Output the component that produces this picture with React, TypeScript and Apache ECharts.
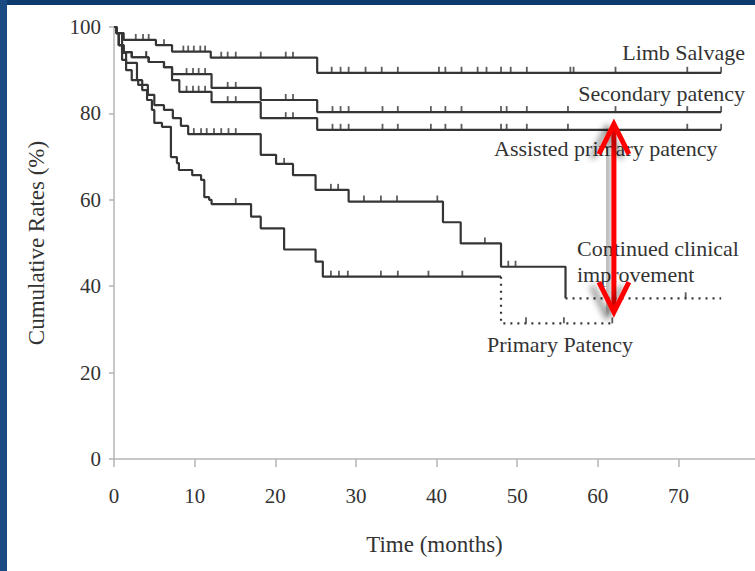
import React, { useEffect, useRef } from "react";
import * as echarts from "echarts";

// ---- data (months, cumulative %) ----
const xTicks = [0, 10, 20, 30, 40, 50, 60, 70];
const yTicks = [0, 20, 40, 60, 80, 100];

const limbTimes = [0, 0.3, 1.2, 5.2, 7.2, 12.0, 25.2, 75.3];
const limbValues = [100, 98.6, 97.0, 95.8, 94.3, 92.9, 89.4, 89.4];
const limbCensor = [2.7, 3.6, 4.3, 6.2, 8.6, 9.2, 9.9, 10.7, 11.3, 13.3, 14.1, 15.1, 18.2, 21.3, 22.2, 27.0, 28.1, 29.1, 31.2, 33.2, 35.2, 40.3, 41.1, 43.1, 45.1, 46.2, 48.0, 49.2, 51.2, 56.6, 57.0, 62.2, 71.1, 75.3];

const secTimes = [0, 0.3, 0.6, 1.2, 2.2, 4.3, 6.2, 7.2, 12.1, 18.2, 25.2, 75.3];
const secValues = [100, 98.6, 95.8, 94.2, 93.0, 91.9, 90.7, 89.1, 85.9, 83.1, 80.3, 80.3];
const secCensor = [4.0, 9.0, 9.8, 10.5, 11.3, 14.1, 15.1, 21.3, 22.2, 27.1, 28.1, 29.1, 33.3, 35.2, 39.3, 41.1, 43.1, 48.0, 48.7, 51.2, 56.3, 62.2, 71.1, 75.3];

const astTimes = [0, 0.3, 0.6, 1.2, 2.2, 4.3, 6.2, 7.2, 8.1, 12.1, 18.2, 25.2, 75.3];
const astValues = [100, 98.6, 95.8, 94.2, 93.0, 91.9, 90.7, 87.7, 85.0, 82.6, 78.9, 76.2, 76.2];
const astCensor = [4.0, 9.0, 9.8, 10.5, 11.3, 14.1, 15.1, 21.3, 22.2, 27.1, 28.1, 29.1, 33.3, 35.2, 39.3, 41.1, 43.1, 48.0, 48.7, 51.2, 56.3, 71.1, 75.3];

const cciTimes = [0, 0.3, 0.6, 1.0, 1.5, 2.2, 3.0, 4.2, 5.0, 6.2, 7.3, 8.3, 9.2, 18.2, 20.1, 22.2, 25.0, 29.1, 40.8, 43.0, 48.0, 56.0];
const cciValues = [100, 98.6, 95.8, 92.4, 90.0, 87.7, 86.6, 84.3, 81.9, 80.8, 78.9, 77.1, 75.2, 70.4, 68.3, 65.7, 62.3, 59.6, 54.8, 49.9, 44.5, 37.2];
const cciDotTimes = [56.0, 75.3];
const cciDotValues = [37.2, 37.2];
const cciCensor = [9.9, 10.8, 11.5, 12.4, 13.3, 14.2, 15.1, 21.1, 26.9, 27.8, 31.0, 33.1, 35.1, 40.1, 46.0, 48.9, 49.8, 70.9];

const ppTimes = [0, 0.3, 1.0, 1.5, 2.85, 3.5, 4.1, 4.7, 5.0, 5.95, 7.06, 7.8, 8.05, 9.7, 10.8, 11.2, 11.8, 12.1, 17.0, 18.2, 21.1, 25.0, 25.9, 48.0];
const ppValues = [100, 98.6, 94.0, 91.7, 87.7, 85.4, 83.1, 80.8, 77.8, 76.9, 69.9, 68.5, 66.9, 65.7, 64.6, 60.6, 60.0, 59.0, 56.1, 53.4, 48.5, 45.7, 42.2, 42.2];
const ppDotTimes = [48.0, 48.0, 61.8];
const ppDotValues = [42.2, 31.4, 31.4];
const ppCensor = [15.1, 26.9, 27.9, 29.0, 33.1, 35.2, 39.0, 43.2, 51.1, 55.8, 61.8];

// arrow annotation (months, %)
const arrowTime = 62;
const arrowTop = 77.5;
const arrowBottom = 34;

const LINE = "#353535";
const FONT = "Liberation Serif";

function pairs(ts: number[], vs: number[]) {
  return ts.map((t, i) => [t, vs[i]]);
}
function levelAt(ts: number[], vs: number[], t: number) {
  let v = vs[0];
  for (let i = 0; i < ts.length; i++) if (ts[i] <= t) v = vs[i];
  return v;
}
function censorPts(ts: number[], vs: number[], cs: number[]) {
  return cs.map((t) => [t, levelAt(ts, vs, t)]);
}

function stepSeries(name: string, ts: number[], vs: number[]) {
  return {
    name,
    type: "line",
    step: "end",
    data: pairs(ts, vs),
    showSymbol: false,
    symbol: "none",
    lineStyle: { color: LINE, width: 2.2 },
    z: 3,
  };
}
function dotSeries(name: string, ts: number[], vs: number[]) {
  return {
    name,
    type: "line",
    data: pairs(ts, vs),
    showSymbol: false,
    symbol: "none",
    lineStyle: { color: LINE, width: 2.2, type: [2, 5] },
    z: 3,
  };
}
function censorSeries(name: string, pts: number[][]) {
  return {
    name,
    type: "scatter",
    data: pts,
    symbol: "rect",
    symbolSize: [1.8, 6],
    symbolOffset: [0, -3],
    itemStyle: { color: LINE },
    z: 4,
  };
}

export default function App() {
  const ref = useRef<HTMLDivElement>(null);
  useEffect(() => {
    if (!ref.current) return;
    const chart = echarts.init(ref.current, undefined, { renderer: "svg" });
    const option: any = {
      animation: false,
      backgroundColor: "#ffffff",
      grid: { left: 114, right: 0, top: 27, bottom: 112 },
      xAxis: {
        type: "value",
        min: xTicks[0],
        max: 79.5,
        interval: 10,
        name: "Time (months)",
        nameLocation: "middle",
        nameGap: 74,
        nameTextStyle: { fontFamily: FONT, fontSize: 23, color: "#333" },
        axisLine: { lineStyle: { color: "#b5b5b5", width: 1.5 } },
        axisTick: { length: 8, lineStyle: { color: "#b5b5b5", width: 1.5 } },
        axisLabel: {
          margin: 26,
          fontFamily: FONT,
          fontSize: 21,
          color: "#333",
          showMaxLabel: false,
          formatter: (v: number) => (xTicks.includes(v) ? String(v) : ""),
        },
        splitLine: { show: false },
      },
      yAxis: {
        type: "value",
        min: yTicks[0],
        max: yTicks[yTicks.length - 1],
        interval: 20,
        name: "Cumulative Rates (%)",
        nameLocation: "middle",
        nameGap: 66,
        nameRotate: 90,
        nameTextStyle: { fontFamily: FONT, fontSize: 23, color: "#333" },
        axisLine: { show: true, lineStyle: { color: "#b5b5b5", width: 1.5 } },
        axisTick: { show: true, length: 5, lineStyle: { color: "#b5b5b5", width: 1.5 } },
        axisLabel: { margin: 13, fontFamily: FONT, fontSize: 21, color: "#333" },
        splitLine: { show: false },
      },
      series: [
        stepSeries("Limb Salvage", limbTimes, limbValues),
        stepSeries("Secondary patency", secTimes, secValues),
        stepSeries("Assisted primary patency", astTimes, astValues),
        stepSeries("Continued clinical improvement", cciTimes, cciValues),
        dotSeries("Continued clinical improvement (dotted)", cciDotTimes, cciDotValues),
        stepSeries("Primary Patency", ppTimes, ppValues),
        dotSeries("Primary Patency (dotted)", ppDotTimes, ppDotValues),
        censorSeries("c1", censorPts(limbTimes, limbValues, limbCensor)),
        censorSeries("c2", censorPts(secTimes, secValues, secCensor)),
        censorSeries("c3", censorPts(astTimes, astValues, astCensor)),
        censorSeries("c4", censorPts([...cciTimes, ...cciDotTimes], [...cciValues, ...cciDotValues], cciCensor)),
        censorSeries("c5", censorPts([...ppTimes, ...ppDotTimes.slice(1)], [...ppValues, ...ppDotValues.slice(1)], ppCensor)),
      ],
    };
    chart.setOption(option);

    const top = chart.convertToPixel({ xAxisIndex: 0, yAxisIndex: 0 }, [arrowTime, arrowTop]) as number[];
    const bot = chart.convertToPixel({ xAxisIndex: 0, yAxisIndex: 0 }, [arrowTime, arrowBottom]) as number[];
    const shadow = {
      shadowColor: "rgba(0,0,0,0.45)",
      shadowBlur: 6,
      shadowOffsetX: -7,
      shadowOffsetY: 4,
    };
    const arrowStyle = {
      stroke: "#ff0000",
      lineWidth: 5,
      fill: null,
      lineJoin: "miter",
      ...shadow,
    };
    const textStyle = (text: string, x: number, y: number, align: string) => ({
      type: "text",
      x,
      y,
      style: { text, fontFamily: FONT, fontSize: 22, fill: "#333", align, verticalAlign: "middle" },
      z: 10,
    });
    chart.setOption({
      graphic: [
        { type: "rect", shape: { x: 0, y: 0, width: 755, height: 5 }, style: { fill: "#0d3a6c" }, z: 20 },
        { type: "rect", shape: { x: 0, y: 0, width: 7, height: 571 }, style: { fill: "#1a4a82" }, z: 20 },
        textStyle("Limb Salvage", 745, 52, "right"),
        textStyle("Secondary patency", 745, 93, "right"),
        textStyle("Assisted primary patency", 494, 148, "left"),
        textStyle("Continued clinical", 577, 248, "left"),
        textStyle("improvement", 577, 274, "left"),
        textStyle("Primary Patency", 487, 344, "left"),
        {
          type: "rect",
          shape: { x: top[0] - 2.5, y: top[1] + 3, width: 5, height: bot[1] - top[1] - 6 },
          style: { fill: "#ff0000", ...shadow },
          z: 12,
        },
        {
          type: "polyline",
          shape: { points: [[top[0] - 15, top[1] + 30], [top[0], top[1]], [top[0] + 15, top[1] + 30]] },
          style: arrowStyle,
          z: 12,
        },
        {
          type: "polyline",
          shape: { points: [[bot[0] - 15, bot[1] - 30], [bot[0], bot[1]], [bot[0] + 15, bot[1] - 30]] },
          style: arrowStyle,
          z: 12,
        },
      ],
    });
    return () => chart.dispose();
  }, []);
  return <div ref={ref} style={{ position: "absolute", left: 0, top: 0, width: 755, height: 571 }} />;
}
